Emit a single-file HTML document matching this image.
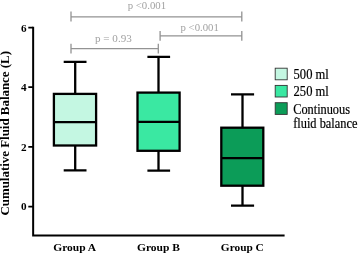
<!DOCTYPE html>
<html><head><meta charset="utf-8"><title>Cumulative Fluid Balance</title>
<style>
html,body{margin:0;padding:0;background:#fff;}
body{width:358px;height:255px;overflow:hidden;}
svg{display:block;}
text{font-family:"Liberation Serif","Times New Roman",serif;}
.b{font-weight:bold;fill:#000;}
.g{fill:#a2a2a2;font-size:11px;}
.l{fill:#000;font-size:14px;stroke:#000;stroke-width:.2px;}
</style></head><body>
<svg width="358" height="255" viewBox="0 0 358 255">
<rect width="358" height="255" fill="#fff"/>
<!-- brackets -->
<g stroke="#939393" stroke-width="1.3" fill="none">
<path d="M71 11.6V21.4M71 16.8H241.8M241.8 11.6V21.4"/>
<path d="M160.1 31V40.7M160.1 35.9H241.8M241.8 31V40.7"/>
<path d="M71 43.7V53.4M71 48.6H158.3M158.3 43.7V53.4"/>
</g>
<text class="g" x="127.7" y="8.8" textLength="38.4" lengthAdjust="spacingAndGlyphs">p &lt;0.001</text>
<text class="g" x="180.5" y="31.1" textLength="38.4" lengthAdjust="spacingAndGlyphs">p &lt;0.001</text>
<text class="g" x="95" y="42" textLength="36.8" lengthAdjust="spacingAndGlyphs">p = 0.93</text>
<!-- axes -->
<g stroke="#000" fill="none">
<path stroke-width="2" d="M33.15 26.7V235.4H284.6"/>
<path stroke-width="1.8" d="M28.3 27.6H33M28.3 87.2H33M28.3 146.9H33M28.3 206.6H33"/>
</g>
<g class="b" font-size="10.5">
<text x="21" y="31.7" textLength="5.6" lengthAdjust="spacingAndGlyphs">6</text>
<text x="21" y="91.4" textLength="5.6" lengthAdjust="spacingAndGlyphs">4</text>
<text x="21" y="151" textLength="5.6" lengthAdjust="spacingAndGlyphs">2</text>
<text x="21" y="210.4" textLength="5.6" lengthAdjust="spacingAndGlyphs">0</text>
</g>
<text class="b" font-size="12.3" transform="translate(8.7 215.6) rotate(-90)" textLength="164.6" lengthAdjust="spacingAndGlyphs">Cumulative Fluid Balance (L)</text>
<!-- boxes -->
<g stroke="#000" stroke-width="2.3" fill="none">
<path d="M63.7 61.8H86.5M75.2 61.8V94M75.2 145.5V170.3M63.7 170.3H86.5"/>
<rect x="53.9" y="93.9" width="42.2" height="51.6" fill="#c4f7e2"/>
<path d="M53.9 122.2H96.1"/>
<path d="M147.4 56.8H170.1M158.5 56.8V92.6M158.5 150.8V170.6M147.4 170.6H170.1"/>
<rect x="137.5" y="92.6" width="42.1" height="58.2" fill="#3ae8a2"/>
<path d="M137.5 121.8H179.6"/>
<path d="M231 94.4H254.1M242.5 94.4V127.7M242.5 185.7V205.6M231 205.6H254.1"/>
<rect x="221.3" y="127.7" width="42" height="58" fill="#0c9c58"/>
<path d="M221.3 158.1H263.3"/>
</g>
<g class="b" font-size="11">
<text x="53.2" y="250.9" textLength="43" lengthAdjust="spacingAndGlyphs">Group A</text>
<text x="137" y="250.9" textLength="43" lengthAdjust="spacingAndGlyphs">Group B</text>
<text x="220.8" y="250.9" textLength="43" lengthAdjust="spacingAndGlyphs">Group C</text>
</g>
<!-- legend -->
<g stroke="#333" stroke-width="0.9">
<rect x="275.2" y="68.2" width="12" height="11.6" fill="#c4f7e2"/>
<rect x="275.2" y="85.4" width="12" height="11.6" fill="#3ae8a2"/>
<rect x="275.2" y="102.7" width="12" height="11.7" fill="#0c9c58"/>
</g>
<text class="l" x="293.6" y="78.7" textLength="35.2" lengthAdjust="spacingAndGlyphs">500 ml</text>
<text class="l" x="293.6" y="95.7" textLength="35.2" lengthAdjust="spacingAndGlyphs">250 ml</text>
<text class="l" x="293.2" y="113.9" textLength="56.8" lengthAdjust="spacingAndGlyphs">Continuous</text>
<text class="l" x="293.2" y="128.2" textLength="64.2" lengthAdjust="spacingAndGlyphs">fluid balance</text>
</svg>
</body></html>
